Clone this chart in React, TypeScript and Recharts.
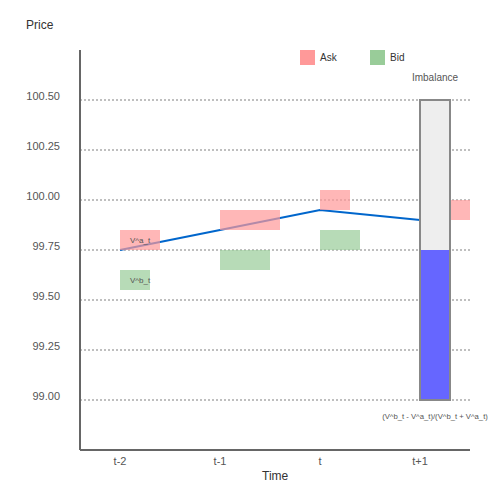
import React from "react";
import {
  ComposedChart,
  Line,
  ReferenceArea,
  ReferenceLine,
  XAxis,
  YAxis,
} from "recharts";

const TIMES = ["t-2", "t-1", "t", "t+1"];
const MID_PRICE = [99.75, 99.85, 99.95, 99.9];
const ASK_LOW = [99.75, 99.85, 99.95, 99.9];
const ASK_HIGH = [99.85, 99.95, 100.05, 100.0];
const ASK_SIZE = [0.4, 0.6, 0.3, 0.5];
const BID_LOW = [99.55, 99.65, 99.75];
const BID_HIGH = [99.65, 99.75, 99.85];
const BID_SIZE = [0.3, 0.5, 0.4];
const PRICE_TICKS = [99.0, 99.25, 99.5, 99.75, 100.0, 100.25, 100.5];
const IMBALANCE = 0.5;
const LEGEND_NAMES = ["Ask", "Bid"];
const LEGEND_COLORS = ["#ff9999", "#99cc99"];

const data = TIMES.map((t, i) => ({ x: i, mid: MID_PRICE[i] }));

const BAR_X = 3;
const BAR_W = 0.3;
const BAR_LOW = 99.0;
const BAR_HIGH = 100.5;
const imbTop = BAR_LOW + IMBALANCE * (BAR_HIGH - BAR_LOW);

const font = "'Liberation Sans', Arial, sans-serif";
const textColor = "#555";

const YTick = (props: any) => {
  const { x, y, payload } = props;
  return (
    <text
      x={x}
      y={y - 4}
      dy="0.355em"
      textAnchor="end"
      fontSize={11}
      fontFamily={font}
      fill={textColor}
    >
      {Number(payload.value).toFixed(2)}
    </text>
  );
};

export default function App() {
  return (
    <div
      style={{
        position: "absolute",
        left: 0,
        top: 0,
        width: 500,
        height: 500,
        fontFamily: font,
        background: "#fff",
      }}
    >
      <ComposedChart
        width={500}
        height={500}
        data={data}
        margin={{ top: 50, right: 30, bottom: 20, left: 20 }}
        style={{ fontFamily: font }}
      >
        <XAxis
          dataKey="x"
          type="number"
          domain={[-0.4, 3.5]}
          ticks={[0, 1, 2, 3]}
          tickFormatter={(v: number) => TIMES[v]}
          allowDataOverflow
          height={30}
          tickLine={false}
          tickSize={0}
          tickMargin={7}
          axisLine={{ stroke: "#666", strokeWidth: 2 }}
          tick={{ fontSize: 11, fill: textColor, fontFamily: font }}
        />
        <YAxis
          type="number"
          domain={[98.75, 100.75]}
          ticks={PRICE_TICKS}
          allowDataOverflow
          width={60}
          tickLine={false}
          tickSize={0}
          tickMargin={20}
          axisLine={{ stroke: "#666", strokeWidth: 2 }}
          tick={<YTick />}
        />
        {PRICE_TICKS.map((v) => (
          <ReferenceLine
            key={"g" + v}
            y={v}
            stroke="#aaa"
            strokeDasharray="2 2"
            strokeWidth={1.5}
            zIndex={-100}
          />
        ))}
        <Line
          dataKey="mid"
          stroke="#0066cc"
          strokeWidth={2}
          dot={false}
          isAnimationActive={false}
          zIndex={400}
        />
        {ASK_LOW.map((lo, i) => (
          <ReferenceArea
            key={"ask" + i}
            x1={i}
            x2={i + ASK_SIZE[i]}
            y1={lo}
            y2={ASK_HIGH[i]}
            fill={LEGEND_COLORS[0]}
            fillOpacity={0.7}
            stroke="none"
            ifOverflow="hidden"
            zIndex={450}
            label={
              i === 0
                ? { value: "V^a_t", position: "insideLeft", offset: 10, fontSize: 8, fill: textColor, fontFamily: font }
                : undefined
            }
          />
        ))}
        {BID_LOW.map((lo, i) => (
          <ReferenceArea
            key={"bid" + i}
            x1={i}
            x2={i + BID_SIZE[i]}
            y1={lo}
            y2={BID_HIGH[i]}
            fill={LEGEND_COLORS[1]}
            fillOpacity={0.7}
            stroke="none"
            ifOverflow="hidden"
            zIndex={450}
            label={
              i === 0
                ? { value: "V^b_t", position: "insideLeft", offset: 10, fontSize: 8, fill: textColor, fontFamily: font }
                : undefined
            }
          />
        ))}
        <ReferenceArea
          x1={BAR_X}
          x2={BAR_X + BAR_W}
          y1={BAR_LOW}
          y2={BAR_HIGH}
          fill="#eeeeee"
          fillOpacity={1}
          stroke="none"
          zIndex={460}
          label={{ value: "Imbalance", position: "top", offset: 19, fontSize: 10, fill: textColor, fontFamily: font }}
        />
        <ReferenceArea
          x1={BAR_X}
          x2={BAR_X + BAR_W}
          y1={BAR_LOW}
          y2={imbTop}
          fill="#6666ff"
          fillOpacity={1}
          stroke="none"
          zIndex={461}
          label={{
            value: "(V^b_t - V^a_t)/(V^b_t + V^a_t)",
            position: "bottom",
            offset: 14,
            fontSize: 7.7,
            fill: textColor,
            fontFamily: font,
          }}
        />
        <ReferenceArea
          x1={BAR_X}
          x2={BAR_X + BAR_W}
          y1={BAR_LOW}
          y2={BAR_HIGH}
          fill="none"
          fillOpacity={0}
          stroke="#888"
          strokeWidth={2}
          zIndex={462}
        />
      </ComposedChart>
      <div style={{ position: "absolute", left: 26, top: 18, fontSize: 12, color: "#333" }}>
        Price
      </div>
      <div style={{ position: "absolute", left: 262, top: 469, fontSize: 12, color: "#333" }}>
        Time
      </div>
      {LEGEND_NAMES.map((name, i) => (
        <div
          key={name}
          style={{
            position: "absolute",
            left: 300 + i * 70,
            top: 50,
            display: "flex",
            alignItems: "center",
            fontSize: 10,
            color: "#333",
          }}
        >
          <span
            style={{
              display: "inline-block",
              width: 15,
              height: 15,
              background: LEGEND_COLORS[i],
              marginRight: 5,
            }}
          />
          {name}
        </div>
      ))}
    </div>
  );
}
